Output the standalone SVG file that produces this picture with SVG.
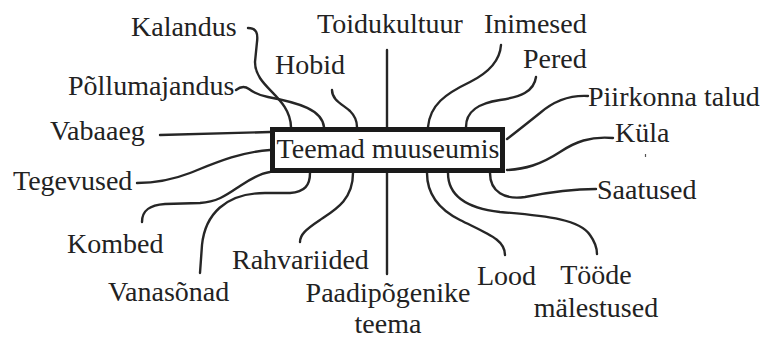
<svg xmlns="http://www.w3.org/2000/svg" width="764" height="340" viewBox="0 0 764 340" font-family="Liberation Serif, DejaVu Serif, serif">
<style>
text{font-family:'Liberation Serif','DejaVu Serif',serif;font-size:28px;fill:#222}
.c{fill:none;stroke:#262626;stroke-width:2.4;stroke-linecap:round}
</style>
<rect width="764" height="340" fill="#fff"/>
<g id="connectors">
<path class="c" d="M248,28 C257,28 258,34 257,42 L255,62 C255,88 290,96 291,127"/>
<path class="c" d="M236,90 C241,86 245,86 249,89 C254,93 258,95 268,97 C300,103 322,110 324,127"/>
<path class="c" d="M332,90 C332,100 342,104 350,111 C355,116 357,121 357,127"/>
<path class="c" d="M387,50 L387,127"/>
<path class="c" d="M501,45 C500,60 490,72 470,82 C445,94 430,105 428,127"/>
<path class="c" d="M536,77 C534,92 520,97 500,100 C480,103 466,110 466,127"/>
<path class="c" d="M588,96 C570,95 555,100 540,113 C525,125 515,133 507,139"/>
<path class="c" d="M613,138 C590,136 575,142 560,152 C540,165 525,169 507,170"/>
<path class="c" d="M596,189 C570,189 545,193 525,197 C505,200 490,192 490,173"/>
<path class="c" d="M448,173 C448,195 465,208 500,212 C550,216 580,220 590,235 C595,242 597,248 597,254"/>
<path class="c" d="M427,173 C427,195 440,210 460,220 C490,235 505,240 505,255"/>
<path class="c" d="M387,173 L387,274"/>
<path class="c" d="M353,173 C353,200 335,210 320,220 C305,230 300,235 300,242"/>
<path class="c" d="M310,173 C310,185 305,192 290,193 L265,193 C225,193 205,215 202,245 L200,273"/>
<path class="c" d="M142,222 C142,210 150,205 165,204 L200,203 C218,202 228,194 240,186 C252,178 262,173 270,172"/>
<path class="c" d="M137,183 C155,183 172,180 190,173 C215,163 240,152 270,150"/>
<path class="c" d="M160,135 L270,132"/>
<path d="M645.5,154 L645.5,157" stroke="#555" stroke-width="1.2"/>
</g>
<g id="center">
<rect x="272.5" y="129.5" width="230" height="41" fill="#fff" stroke="#1a1a1a" stroke-width="5"/>
<text x="388" y="158" text-anchor="middle">Teemad muuseumis</text>
</g>
<g id="n-kalandus"><text x="131" y="36">Kalandus</text></g>
<g id="n-toidukultuur"><text x="317" y="33">Toidukultuur</text></g>
<g id="n-inimesed"><text x="484" y="33">Inimesed</text></g>
<g id="n-hobid"><text x="275" y="74">Hobid</text></g>
<g id="n-pered"><text x="523" y="68">Pered</text></g>
<g id="n-pollumajandus"><text x="68" y="95">Põllumajandus</text></g>
<g id="n-piirkonna"><text x="588" y="106">Piirkonna talud</text></g>
<g id="n-vabaaeg"><text x="50" y="140">Vabaaeg</text></g>
<g id="n-kula"><text x="615" y="142">Küla</text></g>
<g id="n-tegevused"><text x="13" y="190">Tegevused</text></g>
<g id="n-saatused"><text x="597" y="199">Saatused</text></g>
<g id="n-kombed"><text x="67" y="253">Kombed</text></g>
<g id="n-vanasonad"><text x="108" y="301">Vanasõnad</text></g>
<g id="n-rahvariided"><text x="232" y="269">Rahvariided</text></g>
<g id="n-paadipogenike"><text x="388" y="302" text-anchor="middle">Paadipõgenike</text><text x="388" y="333" text-anchor="middle">teema</text></g>
<g id="n-lood"><text x="477" y="285">Lood</text></g>
<g id="n-toode"><text x="596" y="284" text-anchor="middle">Tööde</text><text x="596" y="317" text-anchor="middle">mälestused</text></g>
</svg>
